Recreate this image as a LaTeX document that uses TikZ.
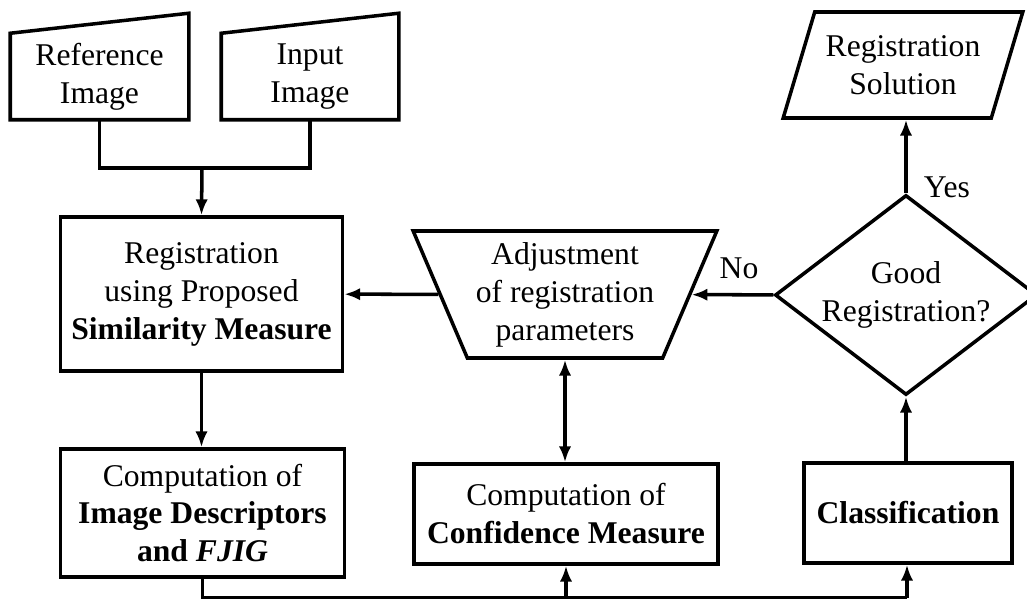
\documentclass[tikz,border=0pt]{standalone}
\usepackage{fontspec}
\setmainfont{Liberation Serif}
\usetikzlibrary{shapes.geometric,arrows.meta}

\begin{document}
\begin{tikzpicture}[line width=2pt,
	font=\fontsize{18}{21.6}\selectfont,
	blk/.style={draw, rectangle, align=center, inner sep=0pt},
	arr/.style={-{Latex[length=9pt,width=7pt]}},
	darr/.style={{Latex[length=9pt,width=7pt]}-{Latex[length=9pt,width=7pt]}}]
				\useasboundingbox (0,0) rectangle (20.54,12);
				
				% Ảnh đầu vào
				\node[blk, draw=none, minimum width=3.5cm, minimum height=1.66cm] (ref) at (1.99,10.47) {Reference\\Image};
				\node[blk, draw=none, minimum width=3.48cm, minimum height=1.66cm] (inp) at (6.2,10.47) {Input\\Image};
				\foreach \n in {ref,inp}
				\draw (\n.south west) -- (\n.south east) -- ([yshift=4mm]\n.north east) -- (\n.north west) -- cycle;
				
				% Các khối
				\node[blk, minimum width=5.64cm, minimum height=3.08cm] (reg) at (4.03,6.12) {Registration\\using Proposed\\\textbf{Similarity Measure}};
				\node[blk, minimum width=5.68cm, minimum height=2.56cm] (comp) at (4.05,1.74) {Computation of\\\textbf{Image Descriptors}\\\textbf{and \textit{FJIG}}};
				\node[blk, minimum width=6.08cm, minimum height=2cm] (conf) at (11.32,1.72) {Computation of\\\textbf{Confidence Measure}};
				\node[blk, minimum width=4.16cm, minimum height=2cm] (cls) at (18.16,1.74) {\textbf{Classification}};
				\node[draw, trapezium, shape border rotate=180, trapezium left angle=64.7, trapezium right angle=64.7, trapezium stretches=true,
				minimum width=6.08cm, minimum height=2.54cm, align=center, inner sep=0pt] (adj) at (11.3,6.11) {Adjustment\\of registration\\parameters};
				\node[draw, diamond, aspect=1.31, minimum width=5.24cm, minimum height=4cm, align=center, inner sep=0pt] (dia) at (18.12,6.1) {Good\\Registration?};
				\node[draw, trapezium, trapezium left angle=65, trapezium right angle=115, trapezium stretches=true,
				minimum width=4.8cm, minimum height=2.12cm, align=center, inner sep=0pt] (sol) at (18.06,10.7) {Registration\\Solution};
				
				% Nhãn
				\node (no) at (14.78,6.64) {No};
				\node (yes) at (18.94,8.26) {Yes};
				
				% Mũi tên
				\coordinate (join) at (4.04,8.64);
				\coordinate (bus) at (18.14,0.05);
				\draw (ref.south) |- (join) -| (inp.south);
				\draw[arr] (join) -- (reg.north);
				\draw[arr] (reg.south) -- (reg.south |- comp.north);
				\draw[arr] (adj) -- (reg);
				\draw[arr] (dia) -- (adj);
				\draw[arr] (dia.north) -- (dia.north |- sol.south);
				\draw[darr] (adj.south) -- (adj.south |- conf.north);
				\draw (comp.south) |- (bus);
				\draw[arr] (conf.south |- bus) -- (conf.south);
				\draw[arr] (bus) -- (bus |- cls.south);
				\draw[arr] (cls.north -| dia.south) -- (dia.south);
			\end{tikzpicture}
\end{document}
